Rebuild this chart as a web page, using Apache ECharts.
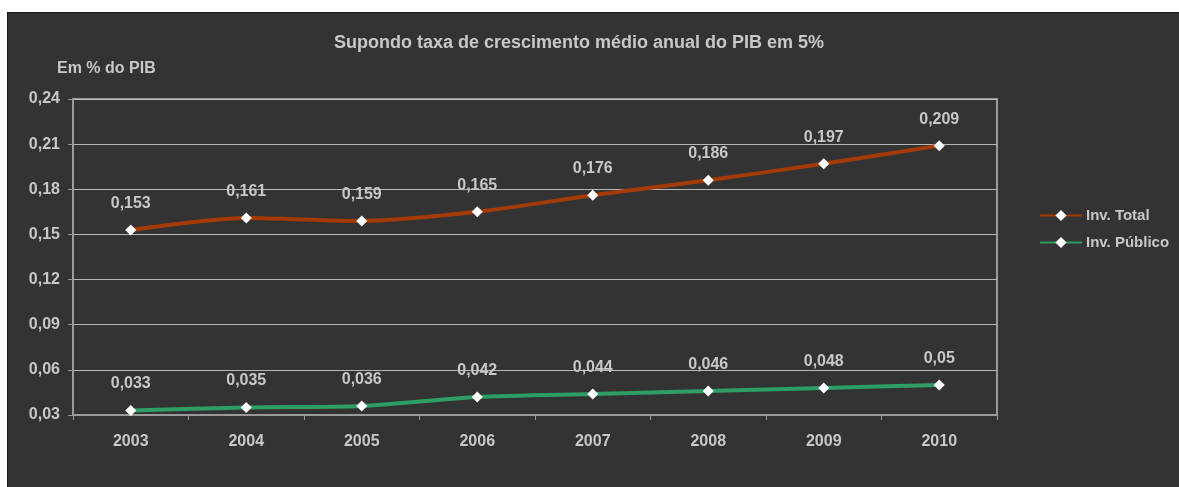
<!DOCTYPE html>
<html><head><meta charset="utf-8">
<script src="https://cdn.jsdelivr.net/npm/echarts@6/dist/echarts.min.js"></script>
<style>
html,body{margin:0;padding:0;background:#fff;width:1179px;height:487px;overflow:hidden}
#panel{position:absolute;left:7px;top:12px;width:1180px;height:480px;background:#333333;border:1px solid #1a1a1a;box-sizing:border-box}
#chart{position:absolute;left:0;top:0;width:1179px;height:487px}
</style></head>
<body>
<div id="panel"></div>
<div id="chart"></div>
<script>
const categories = ['2003','2004','2005','2006','2007','2008','2009','2010'];
const invTotal = [0.153,0.161,0.159,0.165,0.176,0.186,0.197,0.209];
const invPublico = [0.033,0.035,0.036,0.042,0.044,0.046,0.048,0.05];
const seriesNames = ['Inv. Total','Inv. Público'];
const title = 'Supondo taxa de crescimento médio anual do PIB em 5%';
const yName = 'Em % do PIB';

const fmt = v => String(+v.toFixed(3)).replace('.', ',');
const txt = '#c8c8c8';
const font = 'Liberation Sans';
const chart = echarts.init(document.getElementById('chart'), null, {renderer:'canvas'});
chart.setOption({
  backgroundColor:'transparent',
  animation:false,
  title:{text:title,left:574,top:29,textAlign:'center',textStyle:{color:txt,fontFamily:font,fontSize:18,fontWeight:'bold'}},
  grid:{left:73,top:99,width:924,height:316,containLabel:false,show:true,borderColor:'#9a9a9a',borderWidth:2,backgroundColor:'transparent'},
  legend:{orient:'vertical',left:1034,top:203,itemGap:12,itemWidth:42,itemHeight:14,
    textStyle:{color:txt,fontFamily:font,fontSize:15,fontWeight:'bold',padding:[0,0,0,-1]},data:seriesNames},
  xAxis:{type:'category',data:categories,boundaryGap:true,
    axisLine:{lineStyle:{color:'#9a9a9a',width:2}},
    axisTick:{show:true,length:5,lineStyle:{color:'#9a9a9a'}},
    axisLabel:{color:txt,fontFamily:font,fontSize:16,fontWeight:'bold',margin:19}},
  yAxis:{type:'value',min:0.03,max:0.24,interval:0.03,
    name:yName,nameLocation:'end',nameGap:22,
    nameTextStyle:{color:txt,fontFamily:font,fontSize:16,fontWeight:'bold',align:'left',padding:[0,0,0,-16]},
    axisLine:{show:true,lineStyle:{color:'#9a9a9a',width:2}},
    axisTick:{show:true,length:5,lineStyle:{color:'#9a9a9a'}},
    splitLine:{lineStyle:{color:'#b8b8b8',width:1}},
    axisLabel:{color:txt,fontFamily:font,fontSize:16,fontWeight:'bold',margin:13,formatter:v=>v.toFixed(2).replace('.',',')}},
  series:[
    {name:seriesNames[0],type:'line',data:invTotal,smooth:0.25,symbol:'diamond',symbolSize:11,
     lineStyle:{color:'#a33a08',width:4},itemStyle:{color:'#ffffff',borderWidth:0},color:'#a33a08',
     label:{show:true,position:'top',distance:13,color:txt,fontFamily:font,fontSize:16,fontWeight:'bold',formatter:p=>fmt(p.value)}},
    {name:seriesNames[1],type:'line',data:invPublico,smooth:0.25,symbol:'diamond',symbolSize:11,
     lineStyle:{color:'#2f9e66',width:4},itemStyle:{color:'#ffffff',borderWidth:0},color:'#2f9e66',
     label:{show:true,position:'top',distance:13,color:txt,fontFamily:font,fontSize:16,fontWeight:'bold',formatter:p=>fmt(p.value)}}
  ]
});
</script>
</body></html>
